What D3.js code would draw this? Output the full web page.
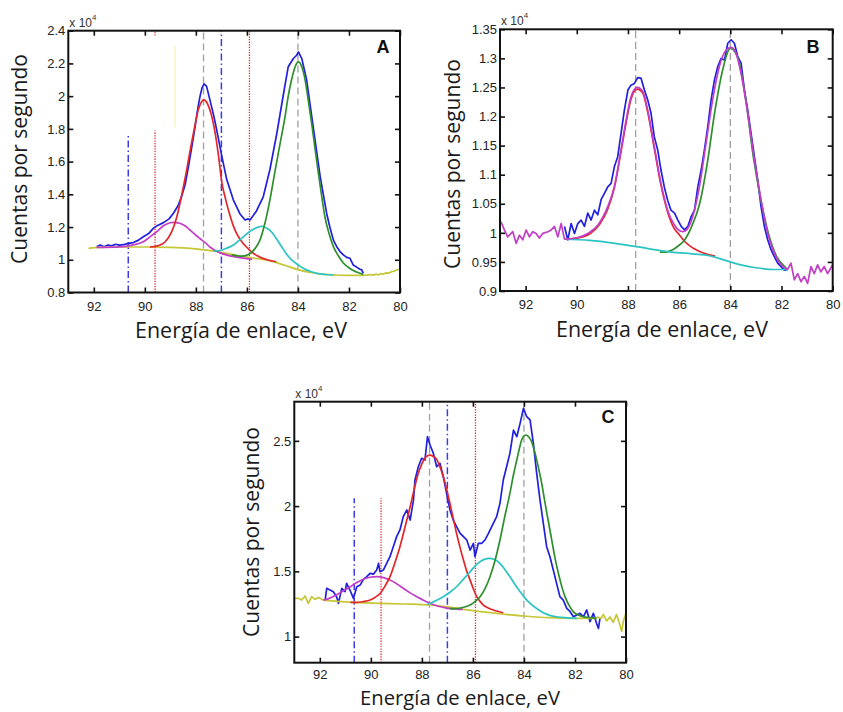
<!DOCTYPE html>
<html><head><meta charset="utf-8">
<script src="https://cdn.jsdelivr.net/npm/d3@7"></script>
<style>body{margin:0;background:#fff}svg{display:block}</style>
</head><body>
<svg id="c" width="843" height="712"></svg>
<script>
// ---------- tick values / labels ----------
const xTickVals = [92, 90, 88, 86, 84, 82, 80];
const xTickLabels = ['92', '90', '88', '86', '84', '82', '80'];
const aYTicks = [0.8, 1.0, 1.2, 1.4, 1.6, 1.8, 2.0, 2.2, 2.4];
const aYLabels = ['0.8', '1', '1.2', '1.4', '1.6', '1.8', '2', '2.2', '2.4'];
const bYTicks = [0.9, 0.95, 1.0, 1.05, 1.1, 1.15, 1.2, 1.25, 1.3, 1.35];
const bYLabels = ['0.9', '0.95', '1', '1.05', '1.1', '1.15', '1.2', '1.25', '1.3', '1.35'];
const cYTicks = [1.0, 1.5, 2.0, 2.5];
const cYLabels = ['1', '1.5', '2', '2.5'];

// ---------- Panel A (eV, counts x1e4) ----------
const aExp = [[91.89,1.08],[91.75,1.09],[91.6,1.08],[91.45,1.09],[91.3,1.085],[91.15,1.095],[91.0,1.09],[90.84,1.092],[90.65,1.10],[90.45,1.105],[90.25,1.12],[90.06,1.141],[89.85,1.16],[89.67,1.192],[89.5,1.21],[89.27,1.227],[89.05,1.25],[88.88,1.284],[88.7,1.33],[88.56,1.386],[88.42,1.46],[88.29,1.569],[88.15,1.70],[88.03,1.814],[87.92,1.93],[87.84,1.997],[87.76,2.05],[87.68,2.075],[87.58,2.06],[87.45,1.977],[87.3,1.88],[87.18,1.79],[86.98,1.63],[86.79,1.49],[86.53,1.365],[86.27,1.28],[86.07,1.243],[85.95,1.25],[85.88,1.243],[85.75,1.27],[85.62,1.30],[85.36,1.385],[85.1,1.55],[84.83,1.77],[84.57,2.01],[84.38,2.18],[84.18,2.23],[84.05,2.25],[83.98,2.27],[83.85,2.23],[83.66,2.10],[83.40,1.81],[83.13,1.51],[82.87,1.28],[82.75,1.2],[82.61,1.12],[82.48,1.08],[82.35,1.05],[82.22,1.03],[82.09,1.015],[81.96,1.009],[81.83,0.968],[81.7,0.955],[81.57,0.942],[81.5,0.938],[81.44,0.917]];
const aBg = [[92.21,1.07],[91.8,1.076],[91.0,1.078],[90.0,1.078],[89.0,1.076],[88.5,1.073],[88.0,1.067],[87.5,1.057],[87.0,1.045],[86.5,1.03],[86.0,1.016],[85.5,1.005],[85.0,0.99],[84.5,0.965],[84.0,0.94],[83.5,0.922],[83.0,0.911],[82.5,0.907],[82.0,0.905],[81.5,0.905],[81.3,0.906]];
const aBgTail = [[81.3,0.906],[81.15,0.91],[81.05,0.906],[80.95,0.912],[80.85,0.908],[80.75,0.915],[80.65,0.912],[80.55,0.92],[80.45,0.918],[80.35,0.926],[80.25,0.93],[80.15,0.936],[80.05,0.942],[80.0,0.945]];
const aMag = [[91.89,1.076],[91.0,1.079],[90.5,1.09],[90.06,1.11],[89.8,1.14],[89.53,1.172],[89.3,1.205],[89.14,1.219],[88.9,1.228],[88.7,1.226],[88.56,1.219],[88.4,1.205],[88.23,1.182],[88.0,1.15],[87.84,1.13],[87.6,1.10],[87.45,1.078],[87.25,1.058],[87.05,1.042],[86.66,1.024],[86.27,1.013],[86.0,1.007],[85.8,1.003]];
const aRed = [[89.8,1.078],[89.5,1.085],[89.2,1.11],[88.95,1.17],[88.75,1.26],[88.55,1.40],[88.36,1.55],[88.2,1.69],[88.05,1.81],[87.9,1.92],[87.78,1.965],[87.68,1.977],[87.55,1.955],[87.4,1.89],[87.25,1.78],[87.1,1.62],[86.98,1.47],[86.85,1.38],[86.7,1.29],[86.55,1.215],[86.4,1.16],[86.2,1.11],[86.0,1.075],[85.75,1.04],[85.5,1.017],[85.2,1.0],[84.85,0.988]];
const aCyan = [[87.3,1.052],[87.02,1.058],[86.8,1.07],[86.53,1.09],[86.3,1.12],[86.14,1.14],[85.95,1.165],[85.75,1.186],[85.55,1.2],[85.42,1.205],[85.25,1.195],[85.03,1.17],[84.85,1.13],[84.64,1.08],[84.45,1.035],[84.25,1.0],[84.0,0.97],[83.79,0.948],[83.5,0.928],[83.26,0.917],[82.9,0.91],[82.61,0.907]];
const aGreen = [[86.6,1.03],[86.2,1.022],[85.9,1.035],[85.7,1.065],[85.49,1.12],[85.3,1.22],[85.1,1.365],[84.9,1.54],[84.7,1.71],[84.5,1.88],[84.38,2.0],[84.25,2.1],[84.11,2.18],[83.98,2.21],[83.85,2.18],[83.72,2.10],[83.6,1.98],[83.46,1.83],[83.33,1.68],[83.2,1.53],[83.07,1.39],[82.94,1.26],[82.78,1.16],[82.61,1.08],[82.4,1.02],[82.22,0.98],[81.95,0.945],[81.7,0.925],[81.44,0.91]];
const aGrayLines = [[87.7, 0.8, 2.4], [84.0, 0.8, 2.4]];
const aBlueLines = [[90.65, 0.8, 1.77], [87.0, 0.8, 2.4]];
const aRedLines = [[89.6, 0.8, 1.79], [89.6, 2.37, 2.4], [85.9, 0.8, 2.4]];
const aYellowLines = [[88.82, 1.81, 2.31]];

// ---------- Panel B ----------
const bExp = [[90.48,1.011],[90.35,0.988],[90.22,1.016],[90.09,0.999],[89.96,1.016],[89.83,1.022],[89.7,1.011],[89.57,1.034],[89.44,1.022],[89.31,1.039],[89.18,1.031],[89.05,1.057],[88.92,1.068],[88.79,1.079],[88.66,1.085],[88.53,1.114],[88.4,1.131],[88.27,1.171],[88.14,1.211],[88.0,1.246],[87.88,1.254],[87.75,1.257],[87.62,1.267],[87.49,1.266],[87.36,1.246],[87.23,1.229],[87.1,1.206],[86.97,1.165],[86.84,1.143],[86.71,1.108],[86.58,1.079],[86.45,1.056],[86.32,1.039],[86.18,1.034],[86.05,1.022],[85.92,1.011],[85.79,1.005],[85.66,1.011],[85.53,1.028],[85.4,1.039],[85.27,1.079],[85.14,1.108],[85.01,1.143],[84.88,1.183],[84.75,1.229],[84.62,1.263],[84.49,1.286],[84.36,1.30],[84.23,1.297],[84.1,1.326],[83.97,1.332],[83.84,1.326],[83.71,1.303],[83.58,1.292],[83.45,1.246],[83.32,1.211],[83.19,1.171],[83.06,1.131],[82.93,1.091],[82.8,1.045],[82.67,1.011],[82.54,0.988],[82.41,0.971],[82.28,0.959],[82.15,0.948],[82.02,0.942],[81.89,0.936],[81.76,0.937]];
const bMagLeft = [[92.96,1.019],[92.83,1.005],[92.7,0.993],[92.5,1.002],[92.37,0.982],[92.24,0.996],[92.11,0.988],[91.98,1.005],[91.85,0.993],[91.72,1.002],[91.59,0.999],[91.46,0.991],[91.33,0.999],[91.13,1.002],[91.0,1.005],[90.87,1.011],[90.74,0.993],[90.61,1.016],[90.48,0.989]];
const bMagFit = [[90.48,0.989],[89.96,0.992],[89.57,0.999],[89.18,1.013],[88.79,1.045],[88.53,1.08],[88.27,1.143],[88.07,1.194],[87.88,1.234],[87.64,1.25],[87.42,1.243],[87.23,1.211],[86.97,1.148],[86.71,1.085],[86.45,1.039],[86.18,1.013],[85.86,1.002],[85.66,1.008],[85.47,1.028],[85.21,1.079],[84.95,1.154],[84.69,1.229],[84.43,1.286],[84.17,1.314],[83.97,1.319],[83.78,1.309],[83.58,1.274],[83.32,1.206],[83.06,1.125],[82.8,1.057],[82.54,0.999],[82.28,0.965],[82.02,0.945],[81.76,0.937]];
const bMagRight = [[81.76,0.937],[81.63,0.948],[81.5,0.919],[81.37,0.930],[81.24,0.916],[81.11,0.925],[80.98,0.913],[80.85,0.942],[80.72,0.930],[80.59,0.945],[80.46,0.933],[80.33,0.942],[80.2,0.930],[80.0,0.945]];
const bBg = [[90.48,0.989],[89.5,0.987],[88.5,0.982],[87.6,0.976],[86.8,0.97],[86.3,0.967],[85.5,0.964],[85.0,0.962],[84.5,0.957],[84.0,0.95],[83.5,0.944],[83.0,0.94],[82.3,0.937],[81.76,0.937]];
const bRed = [[90.48,0.989],[90.0,0.991],[89.5,0.998],[89.1,1.015],[88.8,1.04],[88.53,1.078],[88.27,1.14],[88.07,1.19],[87.88,1.23],[87.64,1.247],[87.42,1.24],[87.23,1.208],[86.97,1.145],[86.71,1.082],[86.45,1.036],[86.2,1.008],[86.0,0.997],[85.8,0.986],[85.5,0.975],[85.2,0.968],[84.9,0.963],[84.6,0.96]];
const bGreen = [[86.75,0.967],[86.5,0.967],[86.25,0.971],[86.05,0.977],[85.8,0.987],[85.5,1.012],[85.2,1.05],[84.9,1.12],[84.6,1.21],[84.3,1.28],[84.0,1.317],[83.7,1.30],[83.4,1.23],[83.1,1.13],[82.8,1.055],[82.5,0.997],[82.2,0.96],[81.9,0.943],[81.76,0.937]];
const bGrayLines = [[87.7, 0.9, 1.35], [84.0, 0.9, 1.35]];

// ---------- Panel C ----------
const cExp = [[91.79,1.280],[91.73,1.370],[91.6,1.357],[91.47,1.344],[91.34,1.306],[91.27,1.255],[91.14,1.370],[91.01,1.344],[90.95,1.408],[90.82,1.357],[90.68,1.293],[90.55,1.382],[90.42,1.395],[90.29,1.439],[90.16,1.459],[90.03,1.485],[89.9,1.479],[89.77,1.51],[89.7,1.561],[89.64,1.497],[89.51,1.51],[89.38,1.561],[89.25,1.612],[89.12,1.689],[88.99,1.766],[88.86,1.817],[88.73,1.919],[88.59,1.97],[88.46,1.893],[88.33,2.046],[88.27,2.2],[88.14,2.302],[88.01,2.366],[87.88,2.353],[87.78,2.532],[87.68,2.468],[87.55,2.404],[87.42,2.302],[87.29,2.327],[87.16,2.225],[87.03,2.098],[86.9,1.97],[86.77,1.893],[86.64,1.842],[86.5,1.791],[86.37,1.766],[86.24,1.74],[86.11,1.663],[85.98,1.714],[85.92,1.612],[85.79,1.714],[85.66,1.714],[85.53,1.74],[85.39,1.791],[85.2,1.868],[85.07,1.919],[84.94,2.021],[84.81,2.2],[84.68,2.302],[84.55,2.404],[84.41,2.583],[84.28,2.532],[84.15,2.634],[84.02,2.749],[83.89,2.685],[83.76,2.66],[83.63,2.481],[83.5,2.251],[83.37,2.046],[83.24,1.868],[83.11,1.689],[82.98,1.612],[82.85,1.51],[82.72,1.408],[82.59,1.306],[82.46,1.28],[82.32,1.216],[82.19,1.191],[82.06,1.152],[81.93,1.165],[81.8,1.178],[81.67,1.152],[81.54,1.204],[81.41,1.114],[81.28,1.178],[81.15,1.101],[81.08,1.063],[81.02,1.14]];
const cBgLeft = [[93.0,1.293],[92.84,1.293],[92.71,1.28],[92.58,1.311],[92.45,1.255],[92.32,1.306],[92.19,1.285],[92.06,1.30],[91.86,1.28]];
const cBg = [[91.86,1.28],[91.3,1.27],[90.68,1.262],[89.64,1.255],[88.7,1.25],[87.68,1.242],[87.0,1.228],[86.37,1.209],[85.7,1.192],[85.07,1.178],[84.5,1.166],[84.02,1.158],[83.5,1.15],[82.98,1.145],[82.4,1.141],[81.93,1.14],[81.15,1.14]];
const cBgRight = [[81.15,1.152],[80.97,1.14],[80.89,1.17],[80.76,1.12],[80.63,1.15],[80.5,1.11],[80.37,1.17],[80.24,1.09],[80.17,1.04],[80.1,1.12],[80.0,1.18]];
const cMag = [[91.86,1.28],[91.6,1.295],[91.34,1.32],[91.08,1.35],[90.82,1.38],[90.55,1.415],[90.29,1.44],[90.03,1.455],[89.77,1.46],[89.5,1.452],[89.25,1.433],[88.99,1.405],[88.73,1.37],[88.46,1.335],[88.2,1.306],[87.94,1.278],[87.68,1.255],[87.42,1.236],[87.16,1.224],[86.9,1.215],[86.64,1.211],[86.4,1.208]];
const cRed = [[90.8,1.262],[90.55,1.262],[90.3,1.268],[90.03,1.28],[89.84,1.3],[89.64,1.33],[89.45,1.385],[89.25,1.459],[89.05,1.57],[88.86,1.689],[88.66,1.84],[88.46,1.995],[88.3,2.13],[88.14,2.251],[88.01,2.32],[87.88,2.366],[87.78,2.385],[87.68,2.39],[87.55,2.38],[87.42,2.358],[87.29,2.3],[87.16,2.225],[87.03,2.13],[86.9,2.02],[86.77,1.905],[86.64,1.79],[86.5,1.68],[86.37,1.587],[86.24,1.5],[86.11,1.433],[85.98,1.365],[85.85,1.306],[85.72,1.27],[85.59,1.242],[85.4,1.22],[85.2,1.204],[85.0,1.192],[84.81,1.183]];
const cCyan = [[87.8,1.245],[87.68,1.255],[87.42,1.278],[87.16,1.306],[86.9,1.34],[86.64,1.382],[86.37,1.44],[86.11,1.497],[85.92,1.54],[85.72,1.574],[85.55,1.592],[85.36,1.6],[85.15,1.59],[84.94,1.561],[84.75,1.515],[84.55,1.459],[84.35,1.4],[84.15,1.344],[83.96,1.295],[83.76,1.255],[83.5,1.215],[83.24,1.183],[82.98,1.163],[82.72,1.152],[82.3,1.144],[81.93,1.14]];
const cGreen = [[86.9,1.215],[86.64,1.215],[86.37,1.225],[86.11,1.242],[85.92,1.268],[85.72,1.306],[85.52,1.37],[85.33,1.459],[85.13,1.585],[84.94,1.74],[84.75,1.92],[84.55,2.098],[84.41,2.24],[84.28,2.353],[84.18,2.44],[84.09,2.506],[83.99,2.54],[83.92,2.545],[83.81,2.53],[83.7,2.494],[83.57,2.41],[83.44,2.302],[83.3,2.17],[83.17,2.021],[83.04,1.88],[82.91,1.74],[82.78,1.6],[82.65,1.485],[82.52,1.385],[82.39,1.306],[82.22,1.235],[82.06,1.19],[81.87,1.165],[81.67,1.152],[81.4,1.145],[81.15,1.14]];
const cGrayLines = [[87.7, 0.8, 2.8], [84.0, 0.8, 2.8]];
const cBlueLines = [[90.65, 0.8, 2.06], [87.0, 0.8, 2.8]];
const cRedLines = [[89.6, 0.8, 2.06], [85.9, 0.8, 2.8]];

// ---------- drawing ----------
const X_DOMAIN = [93, 80];
const COL = {blue:'#2020dd', red:'#e3262a', green:'#2f8f2f', cyan:'#2cc3c3', mag:'#c23ec6', yel:'#c6c636', gray:'#a0a0a0'};
const svg = d3.select('#c');
const defs = svg.append('defs');

function fitText(sel, target, base) {
  const w = sel.node().getComputedTextLength();
  sel.attr('font-size', (base * target / w).toFixed(2));
}

function drawPanel(p) {
  const {l, t, r, b} = p.box;
  const x = d3.scaleLinear().domain(X_DOMAIN).range([l, r]);
  const y = d3.scaleLinear().domain(p.yDomain).range([b, t]);
  const g = svg.append('g');
  defs.append('clipPath').attr('id', 'clip' + p.name)
    .append('rect').attr('x', l).attr('y', t).attr('width', r - l).attr('height', b - t);
  const plot = g.append('g').attr('clip-path', `url(#clip${p.name})`);

  const vl = (arr, color, dash, w) => plot.selectAll(null).data(arr).enter().append('line')
    .attr('x1', d => x(d[0])).attr('x2', d => x(d[0]))
    .attr('y1', d => y(d[1])).attr('y2', d => y(d[2]))
    .attr('stroke', color).attr('stroke-width', w).attr('stroke-dasharray', dash);
  vl(p.gray || [], COL.gray, '7,4', 1.3);
  vl(p.blueL || [], '#3b3be6', '7,3,1.5,3', 1.5);
  vl(p.redL || [], '#e02a2a', '1.3,1.3', 1.3);
  vl(p.yelL || [], '#f2f2bc', null, 1.2);

  const lineS = d3.line().x(d => x(d[0])).y(d => y(d[1])).curve(d3.curveMonotoneX);
  const lineL = d3.line().x(d => x(d[0])).y(d => y(d[1]));
  p.curves.forEach(c => {
    plot.append('path').datum(c.data).attr('d', c.noisy ? lineL : lineS)
      .attr('fill', 'none').attr('stroke', c.color).attr('stroke-width', 1.7)
      .attr('stroke-linejoin', 'round');
  });

  const fmtX = (d, i) => xTickLabels[i];
  const fmtY = (d, i) => p.yLabels[i];
  const style = ax => {
    ax.select('.domain').remove();
    ax.selectAll('line').attr('stroke', '#111').attr('stroke-width', 1.6);
    ax.selectAll('text').attr('font-family', '"Liberation Sans", Arial, sans-serif').attr('font-size', 13).attr('fill', '#222');
  };
  g.append('g').attr('transform', `translate(0,${b})`)
    .call(d3.axisBottom(x).tickValues(xTickVals).tickFormat(fmtX).tickSize(-5).tickPadding(p.xPad)).call(style);
  g.append('g').attr('transform', `translate(0,${t})`)
    .call(d3.axisTop(x).tickValues(xTickVals).tickFormat('').tickSize(-5)).call(style);
  g.append('g').attr('transform', `translate(${l},0)`)
    .call(d3.axisLeft(y).tickValues(p.yTicks).tickFormat(fmtY).tickSize(-5).tickPadding(3)).call(style);
  g.append('g').attr('transform', `translate(${r},0)`)
    .call(d3.axisRight(y).tickValues(p.yTicks).tickFormat('').tickSize(-5)).call(style);
  g.append('rect').attr('x', l).attr('y', t).attr('width', r - l).attr('height', b - t)
    .attr('fill', 'none').attr('stroke', '#111').attr('stroke-width', 2);

  // exponent label
  const ex = g.append('text').attr('x', l + 1).attr('y', t - 4)
    .attr('font-family', '"Liberation Sans", Arial, sans-serif').attr('font-size', 12).attr('fill', '#333');
  ex.append('tspan').text('x 10');
  ex.append('tspan').attr('font-size', 8).attr('dy', -7).text('4');

  // panel letter
  g.append('text').attr('x', p.letterPos[0]).attr('y', p.letterPos[1]).attr('text-anchor', 'middle')
    .attr('font-family', '"Liberation Sans", Arial, sans-serif').attr('font-weight', 'bold')
    .attr('font-size', 18).attr('fill', '#111').text(p.name);

  // axis titles
  const xt = g.append('text').attr('x', p.xTitle[0]).attr('y', p.xTitle[1]).attr('text-anchor', 'middle')
    .attr('font-family', '"Open Sans", Lato, sans-serif').attr('font-size', 20).attr('fill', '#1a1a1a')
    .text('Energía de enlace, eV');
  fitText(xt, p.xTitle[2], 20);
  const yt = g.append('text').attr('transform', `translate(${p.yTitle[0]},${p.yTitle[1]}) rotate(-90)`)
    .attr('text-anchor', 'middle')
    .attr('font-family', '"Open Sans", Lato, sans-serif').attr('font-size', 20).attr('fill', '#1a1a1a')
    .text('Cuentas por segundo');
  fitText(yt, 210, 20);
}

drawPanel({
  name: 'A', box: {l: 68.3, t: 30.7, r: 400, b: 292.5}, yDomain: [0.8, 2.4],
  yTicks: aYTicks, yLabels: aYLabels, xPad: 9,
  gray: aGrayLines, blueL: aBlueLines, redL: aRedLines, yelL: aYellowLines,
  curves: [
    {data: aExp, color: COL.blue, noisy: true},
    {data: aBg, color: COL.yel}, {data: aBgTail, color: COL.yel, noisy: true},
    {data: aMag, color: COL.mag}, {data: aRed, color: COL.red},
    {data: aCyan, color: COL.cyan}, {data: aGreen, color: COL.green}
  ],
  letterPos: [383, 53], xTitle: [241, 338, 212], yTitle: [27, 159]
});
drawPanel({
  name: 'B', box: {l: 500, t: 29.3, r: 832.7, b: 291}, yDomain: [0.9, 1.35],
  yTicks: bYTicks, yLabels: bYLabels, xPad: 9,
  gray: bGrayLines,
  curves: [
    {data: bExp, color: COL.blue, noisy: true},
    {data: bRed, color: COL.red}, {data: bGreen, color: COL.green},
    {data: bBg, color: COL.cyan},
    {data: bMagLeft, color: COL.mag, noisy: true}, {data: bMagFit, color: COL.mag},
    {data: bMagRight, color: COL.mag, noisy: true}
  ],
  letterPos: [813, 53], xTitle: [662, 337, 212], yTitle: [460, 164]
});
drawPanel({
  name: 'C', box: {l: 294.3, t: 401.7, r: 626, b: 662.7}, yDomain: [0.8, 2.8],
  yTicks: cYTicks, yLabels: cYLabels, xPad: 7,
  gray: cGrayLines, blueL: cBlueLines, redL: cRedLines,
  curves: [
    {data: cExp, color: COL.blue, noisy: true},
    {data: cBgLeft, color: COL.yel, noisy: true}, {data: cBg, color: COL.yel},
    {data: cBgRight, color: COL.yel, noisy: true},
    {data: cMag, color: COL.mag}, {data: cRed, color: COL.red},
    {data: cCyan, color: COL.cyan}, {data: cGreen, color: COL.green}
  ],
  letterPos: [608, 423], xTitle: [460, 705, 200], yTitle: [259, 532]
});
</script>
</body></html>
